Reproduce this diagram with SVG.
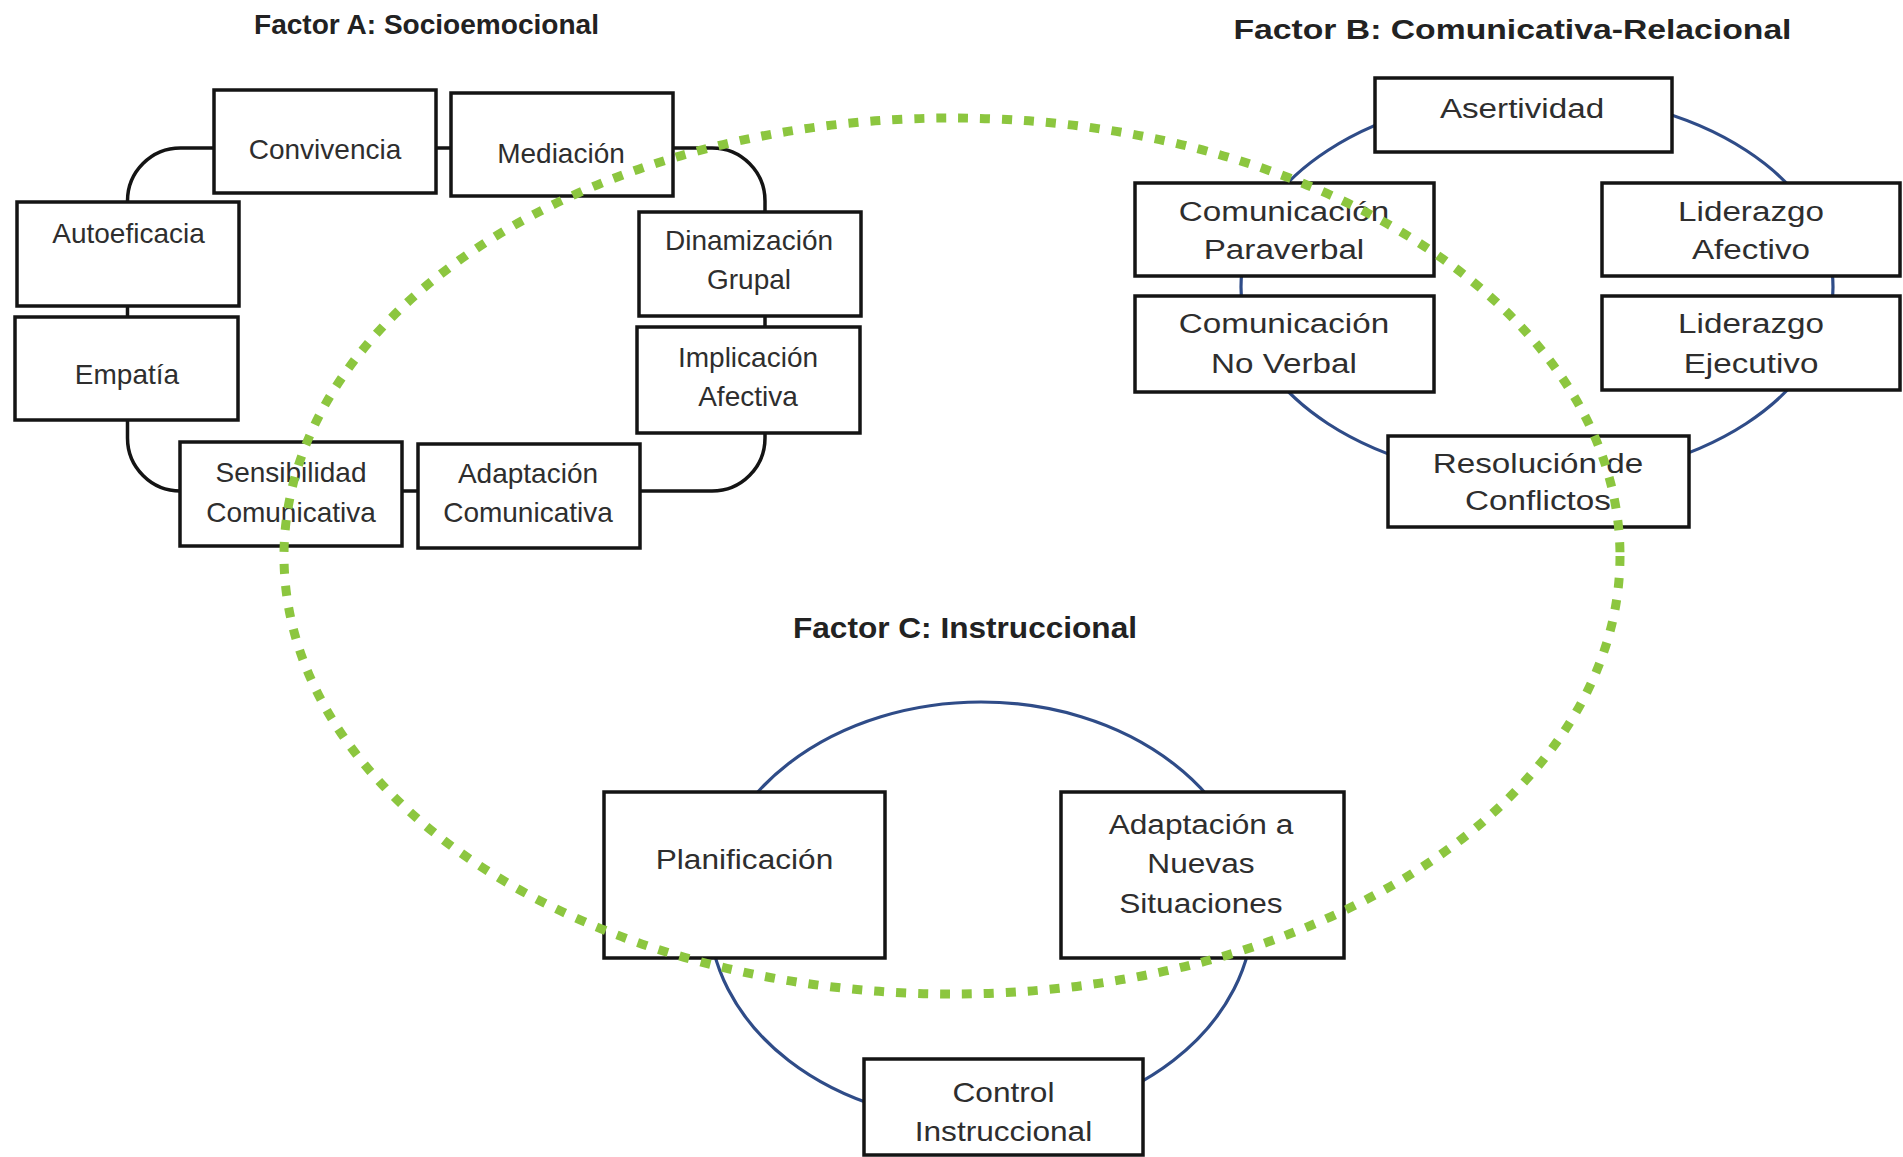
<svg xmlns="http://www.w3.org/2000/svg" width="1903" height="1157" viewBox="0 0 1903 1157">
<style>
.bg{fill:#ffffff}
.box{fill:#ffffff;stroke:#141414;stroke-width:3.5}
.blk{fill:none;stroke:#141414;stroke-width:3.5}
.blue{fill:none;stroke:#2f4c88;stroke-width:3.2}
.green{fill:none;stroke:#8cc63f;stroke-width:9;stroke-dasharray:10 12}
.t{font-family:"Liberation Sans",Arial,sans-serif;fill:#2e2e2e;text-anchor:middle}
.a{font-size:28px}
.b{font-size:27px}
.c{font-size:27.5px}
.title{font-family:"Liberation Sans",Arial,sans-serif;font-weight:bold;fill:#222222;text-anchor:middle}
</style>
<rect class="bg" x="0" y="0" width="1903" height="1157"/>

<g id="titles">
<text class="title" x="426.5" y="34" font-size="27" textLength="345" lengthAdjust="spacingAndGlyphs">Factor A: Socioemocional</text>
<text class="title" x="1512.5" y="39" font-size="27" textLength="558" lengthAdjust="spacingAndGlyphs">Factor B: Comunicativa-Relacional</text>
<text class="title" x="965" y="638" font-size="30" textLength="344" lengthAdjust="spacingAndGlyphs">Factor C: Instruccional</text>
</g>

<g id="connectors">
<rect class="blk" x="127.5" y="148" width="637.5" height="343" rx="53" ry="53"/>
<ellipse class="blue" cx="1537" cy="287" rx="296" ry="193"/>
<ellipse class="blue" cx="981" cy="912" rx="272" ry="210"/>
</g>

<g id="factorA">
<g id="n-convivencia"><rect class="box" x="214" y="90" width="222" height="103"/><text class="t a" x="325" y="159">Convivencia</text></g>
<g id="n-mediacion"><rect class="box" x="451" y="93" width="222" height="103"/><text class="t a" x="561" y="163">Mediación</text></g>
<g id="n-autoeficacia"><rect class="box" x="17" y="202" width="222" height="104"/><text class="t a" x="128.5" y="243">Autoeficacia</text></g>
<g id="n-empatia"><rect class="box" x="15" y="317" width="223" height="103"/><text class="t a" x="127" y="384">Empatía</text></g>
<g id="n-dinamizacion"><rect class="box" x="639" y="212" width="222" height="104"/><text class="t a" x="749" y="250">Dinamización</text><text class="t a" x="749" y="289">Grupal</text></g>
<g id="n-implicacion"><rect class="box" x="637" y="327" width="223" height="106"/><text class="t a" x="748" y="367">Implicación</text><text class="t a" x="748" y="406">Afectiva</text></g>
<g id="n-sensibilidad"><rect class="box" x="180" y="442" width="222" height="104"/><text class="t a" x="291" y="482">Sensibilidad</text><text class="t a" x="291" y="522">Comunicativa</text></g>
<g id="n-adaptacion-com"><rect class="box" x="418" y="444" width="222" height="104"/><text class="t a" x="528" y="483">Adaptación</text><text class="t a" x="528" y="522">Comunicativa</text></g>
</g>

<g id="factorB">
<g id="n-asertividad"><rect class="box" x="1375" y="78" width="297" height="74"/><text class="t b" transform="scale(1.23,1)" x="1237.4" y="118">Asertividad</text></g>
<g id="n-com-paraverbal"><rect class="box" x="1135" y="183" width="299" height="93"/><text class="t b" transform="scale(1.23,1)" x="1043.9" y="221">Comunicación</text><text class="t b" transform="scale(1.23,1)" x="1043.9" y="259">Paraverbal</text></g>
<g id="n-com-noverbal"><rect class="box" x="1135" y="296" width="299" height="96"/><text class="t b" transform="scale(1.23,1)" x="1043.9" y="333">Comunicación</text><text class="t b" transform="scale(1.23,1)" x="1043.9" y="373">No Verbal</text></g>
<g id="n-lid-afectivo"><rect class="box" x="1602" y="183" width="298" height="93"/><text class="t b" transform="scale(1.23,1)" x="1423.6" y="221">Liderazgo</text><text class="t b" transform="scale(1.23,1)" x="1423.6" y="259">Afectivo</text></g>
<g id="n-lid-ejecutivo"><rect class="box" x="1602" y="296" width="298" height="94"/><text class="t b" transform="scale(1.23,1)" x="1423.6" y="333">Liderazgo</text><text class="t b" transform="scale(1.23,1)" x="1423.6" y="373">Ejecutivo</text></g>
<g id="n-resolucion"><rect class="box" x="1388" y="436" width="301" height="91"/><text class="t b" transform="scale(1.23,1)" x="1250.4" y="473">Resolución de</text><text class="t b" transform="scale(1.23,1)" x="1250.4" y="510">Conflictos</text></g>
</g>

<g id="factorC">
<g id="n-planificacion"><rect class="box" x="604" y="792" width="281" height="166"/><text class="t c" transform="scale(1.15,1)" x="647.4" y="869">Planificación</text></g>
<g id="n-adaptacion-nuevas"><rect class="box" x="1061" y="792" width="283" height="166"/><text class="t c" transform="scale(1.15,1)" x="1044.3" y="834">Adaptación a</text><text class="t c" transform="scale(1.15,1)" x="1044.3" y="873">Nuevas</text><text class="t c" transform="scale(1.15,1)" x="1044.3" y="913">Situaciones</text></g>
<g id="n-control"><rect class="box" x="864" y="1059" width="279" height="96"/><text class="t c" transform="scale(1.15,1)" x="872.6" y="1102">Control</text><text class="t c" transform="scale(1.15,1)" x="872.6" y="1141">Instruccional</text></g>
</g>

<g id="overlay">
<ellipse class="green" cx="952" cy="556" rx="668" ry="438"/>
</g>
</svg>
